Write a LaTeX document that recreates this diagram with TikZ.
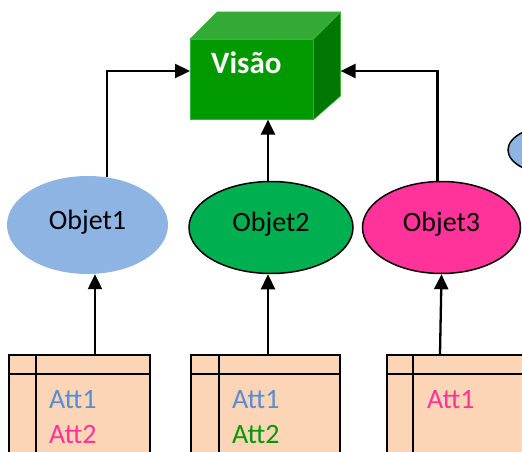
\documentclass[tikz,border=0pt]{standalone}
\usepackage{fontspec}
\setmainfont{Carlito}
\usetikzlibrary{shapes.geometric,arrows.meta,calc}

\definecolor{objblue}{HTML}{8EB4E3}
\definecolor{objgreen}{HTML}{00B050}
\definecolor{objpink}{HTML}{FF3399}
\definecolor{attblue}{HTML}{558ED5}
\definecolor{attgreen}{HTML}{009A00}
\definecolor{attpink}{HTML}{FF3399}
\definecolor{boxfill}{HTML}{FBD5B5}
\definecolor{cubefront}{HTML}{009900}
\definecolor{cubetop}{HTML}{33AA33}
\definecolor{cubeside}{HTML}{007800}
\definecolor{cubeedge}{HTML}{3CB43C}

\begin{document}
\begin{tikzpicture}[x=1pt,y=-1pt,
  txt/.style={font=\fontsize{28}{33}\selectfont},
  objnode/.style={ellipse, inner sep=0pt, txt, text height=14pt, text depth=6pt},
  attbox/.style={draw=black, line width=1.6pt, fill=boxfill, anchor=north west,
    minimum height=130pt, inner sep=0pt},
  attlbl/.style={txt, anchor=base west, inner sep=0pt},
  conn/.style={draw=black, line width=2.3pt, -{Triangle[length=15pt,width=14pt]}},
  rule/.style={draw=black, line width=1.6pt}]
\useasboundingbox (0,0) rectangle (522,452);
\clip (0,0) rectangle (522,452);

% the "Visão" cube
\node[fill=cubefront, draw=cubeedge, line width=0.6pt, anchor=north west,
  minimum width=123pt, minimum height=80pt, inner sep=0pt] (vis) at (190,39) {};
\filldraw[fill=cubetop, draw=cubeedge, line width=0.6pt]
  (vis.north west) -- ++(27,-27) -- ++(123,0) -- (vis.north east) -- cycle;
\filldraw[fill=cubeside, draw=cubeedge, line width=0.6pt]
  (vis.north east) -- ++(27,-27) -- ++(0,84) -- (vis.south east) -- cycle;
\node[font=\fontsize{31}{36}\selectfont\bfseries, text=white, anchor=base west,
  inner sep=0pt] (vislbl) at (211,74) {Visão};
\coordinate (visL) at ($(vis.north west)+(0,32)$);
\coordinate (visR) at ($(vis.north east)+(27,32)$);

% objects
\node[objnode, fill=objblue, minimum width=161pt, minimum height=98pt] (o1) at (87.5,225) {Objet1};
\node[objnode, fill=objgreen, draw=black, line width=1.5pt, minimum width=164pt, minimum height=92pt] (o2) at (271,227.5) {Objet2};
\node[objnode, fill=objpink, draw=black, line width=1.5pt, minimum width=158pt, minimum height=92pt] (o3) at (441.5,227.5) {Objet3};
\node[ellipse, fill=objblue, draw=black, line width=1.5pt, minimum width=100pt, minimum height=50pt] (o4) at (558,150) {};

% attribute tables
\node[attbox, minimum width=141pt] (b1) at (8,354) {};
\node[attbox, minimum width=149pt] (b2) at (190,354) {};
\node[attbox, minimum width=160pt] (b3) at (386,354) {};
\foreach \b/\v in {b1/28, b2/29, b3/27} {
  \draw[rule] ($(\b.north west)+(0,20)$) -- ($(\b.north east)+(0,20)$);
  \draw[rule] ($(\b.north west)+(\v,0)$) -- ($(\b.south west)+(\v,0)$);
}
\node[attlbl, text=attblue] (a11) at ($(b1.north west)+(41,54)$) {Att1};
\node[attlbl, text=attpink] (a12) at ($(b1.north west)+(41,89)$) {Att2};
\node[attlbl, text=attblue] (a21) at ($(b2.north west)+(42,54)$) {Att1};
\node[attlbl, text=attgreen] (a22) at ($(b2.north west)+(42,89)$) {Att2};
\node[attlbl, text=attpink] (a31) at ($(b3.north west)+(41,54)$) {Att1};

% connectors
\coordinate (p1) at ($(b1.north west)+(87,0)$);
\draw[conn] (o1.68) |- (visL);
\draw[conn] ([xshift=-3pt]o2.north) -- ([xshift=-3pt]o2.north |- vis.south);
\draw[conn] (o3.95) |- (visR);
\draw[conn] (p1) -- (p1 |- o1.south);
\draw[conn] ([xshift=-3pt]o2.south |- b2.north) -- ([xshift=-3pt]o2.south);
\draw[conn] ([xshift=-1.5pt]o3.south |- b3.north) -- (o3.south);
\end{tikzpicture}
\end{document}
